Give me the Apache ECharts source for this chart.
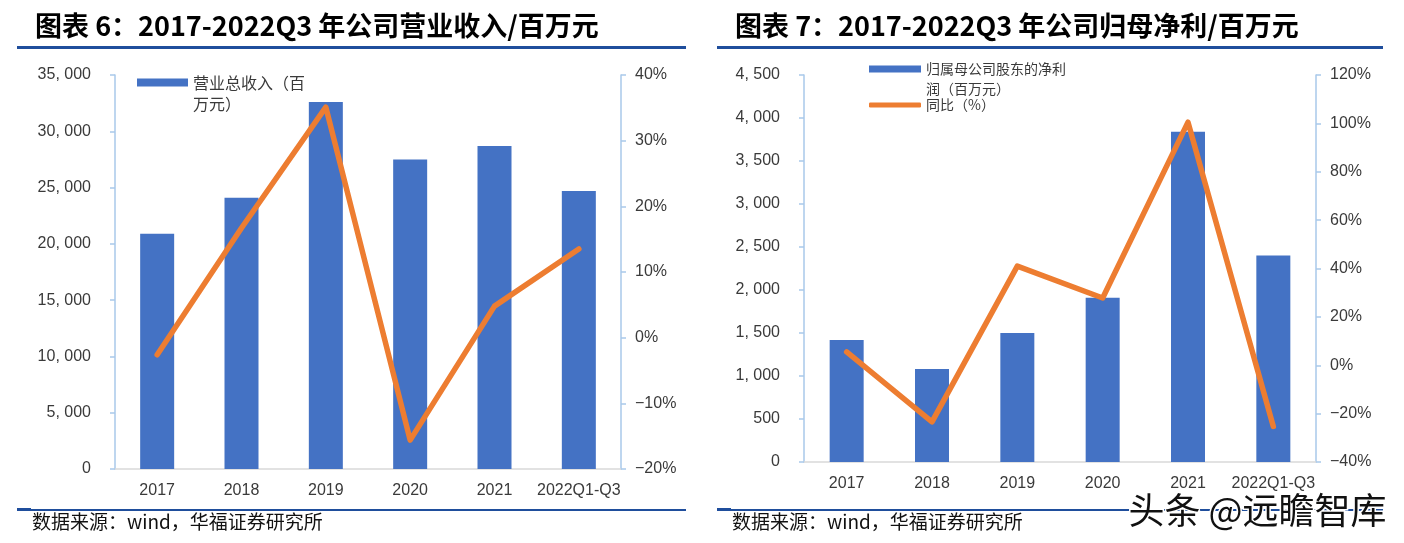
<!DOCTYPE html>
<html>
<head>
<meta charset="utf-8">
<script src="https://cdn.jsdelivr.net/npm/echarts@6/dist/echarts.min.js"></script>
<style>
html,body{margin:0;padding:0;background:#fff;}
#c{width:1404px;height:543px;}
</style>
</head>
<body>
<div id="c"></div>
<script>
const categories = ['2017', '2018', '2019', '2020', '2021', '2022Q1-Q3'];
const revenue = [20900, 24100, 32600, 27500, 28700, 24700];
const revenueYoY = [-2.6, 16.7, 35.1, -15.6, 4.8, 13.5];
const netProfit = [1420, 1080, 1500, 1910, 3840, 2400];
const netProfitYoY = [5.5, -23.4, 41.0, 27.8, 100.5, -25.3];

const revenueName = '营业总收入（百万元）';
const profitName = '归属母公司股东的净利润（百万元）';
const yoyName = '同比（%）';
const yoyName1 = '营业收入同比';

const titleLeft = '图表 6：2017-2022Q3 年公司营业收入/百万元';
const titleRight = '图表 7：2017-2022Q3 年公司归母净利/百万元';
const sourceText = '数据来源：wind，华福证券研究所';
const watermark = '头条 @远瞻智库';

const BLUE = '#4472c4', ORANGE = '#ed7d31', AXBLUE = '#a9c9ea', TXT = '#3a3a3a';
const FONT = '"Liberation Sans", Arial, "Noto Sans CJK SC", sans-serif';
const CJK = '"Noto Sans CJK SC", sans-serif';

function thousands(v) {
  const s = String(Math.round(v));
  return s.length > 3 ? s.slice(0, s.length - 3) + ', ' + s.slice(s.length - 3) : s;
}
function pct(v) { return (v < 0 ? '\u2212' + Math.abs(v) : v) + '%'; }

function valAxis(gridIndex, pos, min, max, interval, fmt) {
  return {
    type: 'value', gridIndex, position: pos, min, max, interval,
    axisLine: { show: true, lineStyle: { color: AXBLUE, width: 1.5 } },
    axisTick: { show: true, length: 5, lineStyle: { color: AXBLUE, width: 1.5 } },
    splitLine: { show: false },
    axisLabel: { formatter: fmt, color: TXT, fontSize: 16, fontFamily: FONT, margin: pos === 'left' ? 24 : 14 }
  };
}
function catAxis(gridIndex) {
  return {
    type: 'category', gridIndex, data: categories,
    axisLine: { lineStyle: { color: '#d9d9d9', width: 1.5 } },
    axisTick: { show: false },
    axisLabel: { interval: 0, color: TXT, fontSize: 16, fontFamily: FONT, margin: 14 }
  };
}

const chart = echarts.init(document.getElementById('c'), null, { renderer: 'canvas' });
chart.setOption({
  animation: false,
  backgroundColor: '#fff',
  grid: [
    { left: 115, right: 783, top: 75, bottom: 74 },
    { left: 804, right: 88, top: 75, bottom: 81 }
  ],
  xAxis: [catAxis(0), catAxis(1)],
  yAxis: [
    valAxis(0, 'left', 0, 35000, 5000, thousands),
    valAxis(0, 'right', -20, 40, 10, pct),
    valAxis(1, 'left', 0, 4500, 500, thousands),
    valAxis(1, 'right', -40, 120, 20, pct)
  ],
  legend: [
    {
      data: [{ name: revenueName, icon: 'rect' }],
      left: 137, top: 51, padding: 0, itemWidth: 51, itemHeight: 8,
      formatter: () => ' \n营业总收入（百\n万元）',
      textStyle: { fontFamily: CJK, fontSize: 16, color: TXT, lineHeight: 21 }
    },
    {
      data: [{ name: profitName, icon: 'rect' }],
      left: 869, top: 39, padding: 0, itemWidth: 52, itemHeight: 7,
      formatter: () => ' \n归属母公司股东的净利\n润（百万元）',
      textStyle: { fontFamily: CJK, fontSize: 14, color: TXT, lineHeight: 20 }
    },
    {
      data: [{ name: yoyName, icon: 'roundRect' }],
      left: 869, top: 98, padding: 0, itemWidth: 52, itemHeight: 5,
      textStyle: { fontFamily: CJK, fontSize: 14, color: TXT }
    }
  ],
  series: [
    { name: revenueName, type: 'bar', xAxisIndex: 0, yAxisIndex: 0, data: revenue, barWidth: 34, itemStyle: { color: BLUE } },
    { name: yoyName1, type: 'line', xAxisIndex: 0, yAxisIndex: 1, data: revenueYoY, symbol: 'none',
      lineStyle: { color: ORANGE, width: 5.5, cap: 'round', join: 'round' }, itemStyle: { color: ORANGE }, z: 5 },
    { name: profitName, type: 'bar', xAxisIndex: 1, yAxisIndex: 2, data: netProfit, barWidth: 34, itemStyle: { color: BLUE } },
    { name: yoyName, type: 'line', xAxisIndex: 1, yAxisIndex: 3, data: netProfitYoY, symbol: 'none',
      lineStyle: { color: ORANGE, width: 5.5, cap: 'round', join: 'round' }, itemStyle: { color: ORANGE }, z: 5 }
  ],
  graphic: [
    { type: 'text', left: 35, top: 12, style: { text: titleLeft, font: 'bold 27px ' + CJK, fill: '#000' } },
    { type: 'text', left: 735, top: 12, style: { text: titleRight, font: 'bold 27px ' + CJK, fill: '#000' } },
    { type: 'rect', shape: { x: 17, y: 46, width: 669, height: 3 }, style: { fill: '#1f4e9c' } },
    { type: 'rect', shape: { x: 717, y: 46, width: 666, height: 3 }, style: { fill: '#1f4e9c' } },
    { type: 'rect', shape: { x: 17, y: 509, width: 669, height: 2 }, style: { fill: '#1f4e9c' } },
    { type: 'rect', shape: { x: 17, y: 508, width: 14, height: 3 }, style: { fill: '#1f4e9c' } },
    { type: 'rect', shape: { x: 717, y: 509, width: 666, height: 2 }, style: { fill: '#1f4e9c' } },
    { type: 'rect', shape: { x: 717, y: 508, width: 14, height: 3 }, style: { fill: '#1f4e9c' } },
    { type: 'text', left: 32, top: 512, style: { text: sourceText, font: '19px ' + CJK, fill: '#111' } },
    { type: 'text', left: 732, top: 512, style: { text: sourceText, font: '19px ' + CJK, fill: '#111' } },
    { type: 'text', left: 1127, top: 491, z: 100, style: { text: watermark, font: '36px ' + CJK, fill: '#111', stroke: '#fff', lineWidth: 3 } }
  ]
});
</script>
</body>
</html>
